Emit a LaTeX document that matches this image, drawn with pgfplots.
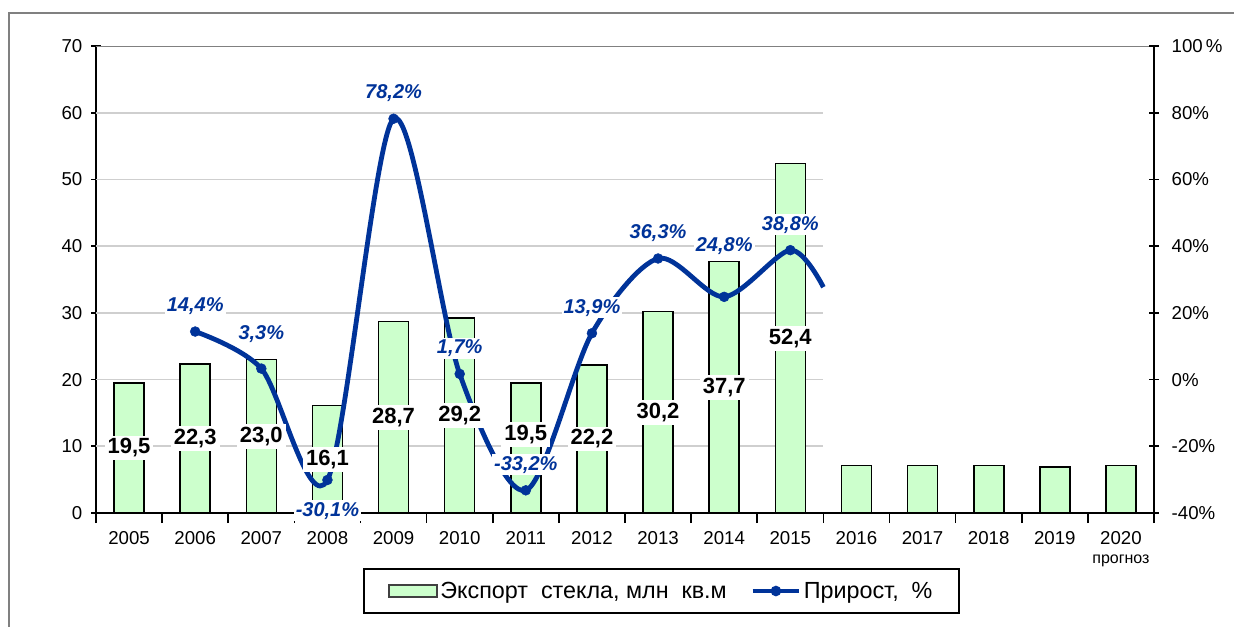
\documentclass[border=0pt]{standalone}
\usepackage{fontspec}
\setmainfont{Liberation Sans}
\usepackage{pgfplots}
\usepackage{pgfplotstable}
\pgfplotsset{compat=1.18}
\definecolor{barfill}{HTML}{CCFFCC}
\definecolor{lineblue}{HTML}{003399}
\definecolor{gridgray}{HTML}{CFCFCF}

\pgfplotstableread{
year v
2005 19.5
2006 22.3
2007 23.0
2008 16.1
2009 28.7
2010 29.2
2011 19.5
2012 22.2
2013 30.2
2014 37.7
2015 52.4
}\hist
\pgfplotstableread{
year v
2005 19.5
2006 22.3
2007 23.0
2008 16.1
2009 28.7
2010 29.2
2012 22.2
2013 30.2
2014 37.7
2015 52.4
}\histlbl
\pgfplotstableread{
year v
2011 19.5
}\histlblb
\pgfplotstableread{
year v
2016 7.1
2017 7.1
2018 7.1
2019 6.9
2020 7.1
}\prog
\pgfplotstableread{
year g
2006 14.4
2009 78.2
2010 1.7
2011 -33.2
2012 13.9
2013 36.3
2015 38.8
}\growthup
\pgfplotstableread{
year g
2007 3.3
}\growthupb
\pgfplotstableread{
year g
2014 24.8
}\growthupc
\pgfplotstableread{
year g
2008 -30.1
}\growthdown
\pgfplotstableread{
year g
2006 14.4
2007 3.3
2008 -30.1
2009 78.2
2010 1.7
2011 -33.2
2012 13.9
2013 36.3
2014 24.8
2015 38.8
2015.5 27.7
}\growthline

\pgfplotsset{
  base/.style={
    scale only axis, width=793.5pt, height=350.25pt,
    xmin=2004.5, xmax=2020.5,
    at={(0,0)}, anchor=south west,
    /pgf/number format/assume math mode=true,
    tick align=center, major tick length=7.5pt, minor tick length=7.5pt,
    tick style={black, line width=1.2pt},
    ticklabel style={font=\fontsize{14}{14}\selectfont, text=black},
  },
  growthlbl/.style={
    only marks, mark=*, mark size=3.7pt, lineblue, forget plot,
    point meta=explicit,
    nodes near coords={\pgfmathprintnumber[fixed, fixed zerofill, precision=1, use comma]{\pgfplotspointmeta}\%},
    every node near coord/.append style={
      font=\bfseries\itshape\fontsize{15}{15}\selectfont, text=lineblue, fill=white, inner sep=1.5pt},
  },
  barlbl/.style={
    draw=none, mark=none, point meta=explicit,
    nodes near coords={\pgfmathprintnumber[fixed, fixed zerofill, precision=1, use comma]{\pgfplotspointmeta}},
    every node near coord/.append style={anchor=center, fill=white, text=black,
      font=\bfseries\fontsize{16.5}{16.5}\selectfont, inner sep=2.2pt},
  },
}

\begin{document}
\begin{tikzpicture}
\path[use as bounding box] (-72pt,-84.75pt) rectangle (853.5pt,384.75pt);
\draw[gray, line width=1.2pt] (-65.25pt,-100pt) -- (-65.25pt,375pt) -- (870pt,375pt);

% axis 1: bars
\begin{axis}[base,
  ymin=0, ymax=70, ytick={0,10,...,70},
  yticklabel style={xshift=-3pt},
  axis x line*=bottom, axis y line*=left,
  axis line style={black, line width=1.5pt, -},
  xtick={2005,2006,2007,2008,2009,2010,2011,2012,2013,2014,2015,2016,2017,2018,2019,2020},
  xticklabels={2005,2006,2007,2008,2009,2010,2011,2012,2013,2014,2015,2016,2017,2018,2019,{2020\\[0pt]{\fontsize{12}{12}\selectfont прогноз}}},
  xticklabel style={align=center, yshift=-3pt},
  major x tick style={draw=none},
  minor xtick={2004.5,2005.5,...,2020.5},
  ybar, bar width=22.5pt, bar shift=0pt,
]
\pgfplotsinvokeforeach{10,20,30,40,50,60}{
  \draw[gridgray, line width=1.2pt] (axis cs:2004.5,#1) -- (axis cs:2015.5,#1);
}
\draw[gray, line width=1.2pt] (rel axis cs:0,1) -- (rel axis cs:1,1);
\addplot[fill=barfill, draw=black, line width=1.2pt] table[x=year, y=v]{\hist};
\addplot[fill=barfill, draw=black, line width=1.2pt] table[x=year, y=v]{\prog};
\end{axis}

% axis 2: growth line
\begin{axis}[base,
  ymin=-40, ymax=100, ytick={-40,-20,...,100},
  yticklabels={-40\%,-20\%,0\%,20\%,40\%,60\%,80\%,100\,\%},
  yticklabel style={xshift=6pt},
  axis y line*=right, axis x line=none,
  axis line style={black, line width=1.5pt, -},
  legend columns=2,
  legend style={at={(0.5345,-0.167)}, anchor=center, draw=black, line width=1.5pt,
    font=\fontsize{17.5}{19}\selectfont, inner xsep=18pt, inner ysep=7.5pt,
    /tikz/every even column/.append style={column sep=16pt}},
]
\addplot[lineblue, line width=3.6pt, smooth, mark=none, forget plot] table[x=year, y=g]{\growthline};
\addplot[growthlbl, every node near coord/.append style={anchor=south, yshift=11pt}]
  table[x=year, y=g, meta=g]{\growthup};
\addplot[growthlbl, every node near coord/.append style={anchor=south, yshift=18pt}]
  table[x=year, y=g, meta=g]{\growthupb};
\addplot[growthlbl, every node near coord/.append style={anchor=south, yshift=30pt}]
  table[x=year, y=g, meta=g]{\growthupc};
\addplot[growthlbl, every node near coord/.append style={anchor=north, yshift=-15pt}]
  table[x=year, y=g, meta=g]{\growthdown};
\addlegendimage{legend image code/.code={\draw[fill=barfill, draw=black!75, line width=1.4pt] (0pt,-4.5pt) rectangle (36pt,4.5pt);}}
\addlegendentry{Экспорт\ \ стекла, млн\ \ кв.м}
\addlegendimage{legend image code/.code={\draw[lineblue, line width=2.8pt] (0pt,0pt) -- (35pt,0pt); \fill[lineblue] (17.5pt,0pt) circle (3.2pt);}}
\addlegendentry{Прирост,\ \ \%}
\end{axis}

% axis 3: bar value labels on top
\begin{axis}[base, ymin=0, ymax=70, hide axis]
\addplot[barlbl] table[x=year, y expr=\thisrow{v}/2, meta=v]{\histlbl};
\addplot[barlbl, every node near coord/.append style={yshift=10pt}]
  table[x=year, y expr=\thisrow{v}/2, meta=v]{\histlblb};
\end{axis}
\end{tikzpicture}
\end{document}
